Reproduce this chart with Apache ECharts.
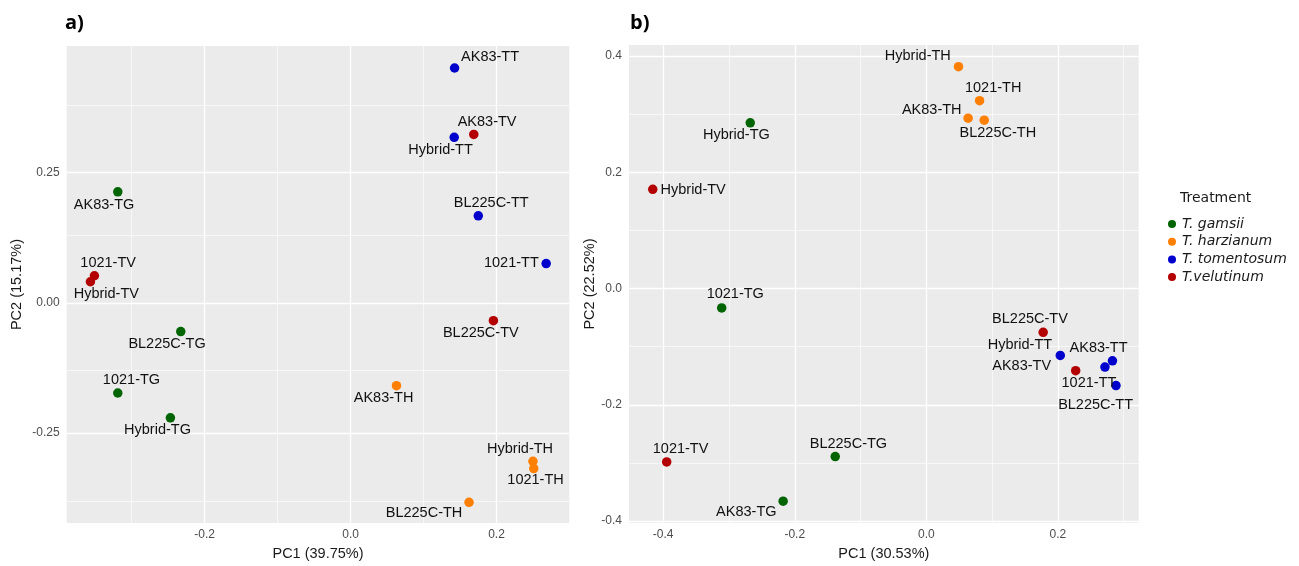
<!DOCTYPE html>
<html>
<head>
<meta charset="utf-8">
<title>PCA – Trichoderma treatments</title>
<script src="https://cdn.jsdelivr.net/npm/echarts@6/dist/echarts.min.js"></script>
<style>
  html, body { margin: 0; padding: 0; background: #ffffff; }
  #chart { width: 1299px; height: 566px; }
</style>
</head>
<body>
<div id="chart"></div>
<script>
// ---- data -------------------------------------------------------------
const treatments = ['T. gamsii', 'T. harzianum', 'T. tomentosum', 'T.velutinum'];
const treatmentCodes = ['TG', 'TH', 'TT', 'TV'];
const treatmentColors = ['#006400', '#FF7F00', '#0000CD', '#B30000'];

// panel a)
const samplesA = ['AK83-TT', 'AK83-TV', 'Hybrid-TT', 'AK83-TG', 'BL225C-TT', '1021-TT', '1021-TV', 'Hybrid-TV',
                  'BL225C-TG', 'BL225C-TV', '1021-TG', 'Hybrid-TG', 'AK83-TH', 'Hybrid-TH', '1021-TH', 'BL225C-TH'];
const pc1A = [0.1425, 0.1688, 0.142, -0.319, 0.175, 0.268, -0.351, -0.3565,
              -0.2327, 0.1957, -0.319, -0.2469, 0.0629, 0.2499, 0.251, 0.1623];
const pc2A = [0.4506, 0.3232, 0.3175, 0.213, 0.167, 0.0754, 0.052, 0.0405,
              -0.0551, -0.0342, -0.173, -0.2205, -0.159, -0.304, -0.318, -0.3827];
const ticksXA = [-0.2, 0, 0.2];
const ticksYA = [-0.25, 0, 0.25];
const minorXA = [-0.3, -0.1, 0.1];
const minorYA = [-0.375, -0.125, 0.125, 0.375];

// panel b)
const samplesB = ['Hybrid-TH', '1021-TH', 'AK83-TH', 'BL225C-TH', 'Hybrid-TG', 'Hybrid-TV', '1021-TG', 'BL225C-TV',
                  'Hybrid-TT', 'AK83-TT', '1021-TT', 'AK83-TV', 'BL225C-TT', '1021-TV', 'BL225C-TG', 'AK83-TG'];
const pc1B = [0.0489, 0.0809, 0.0635, 0.088, -0.2677, -0.4159, -0.3111, 0.1776,
              0.2036, 0.2829, 0.2715, 0.227, 0.2883, -0.3947, -0.1385, -0.2177];
const pc2B = [0.3816, 0.3231, 0.2929, 0.2895, 0.2849, 0.1707, -0.0333, -0.0754,
              -0.1151, -0.1243, -0.135, -0.1413, -0.1669, -0.2982, -0.289, -0.3657];
const ticksXB = [-0.4, -0.2, 0, 0.2];
const ticksYB = [-0.4, -0.2, 0, 0.2, 0.4];
const minorXB = [-0.3, -0.1, 0.1, 0.3];
const minorYB = [-0.3, -0.1, 0.1, 0.3];

// ---- layout: text label nudges (px) so sample names don't collide ------
const labelNudgeA = {
  'AK83-TT': [35.5, -10.7], 'AK83-TV': [13.3, -12.3], 'Hybrid-TT': [-13.7, 12.7], 'AK83-TG': [-13.7, 12.7],
  'BL225C-TT': [12.9, -13], '1021-TT': [-34.8, -0.3], '1021-TV': [13.7, -12.3], 'Hybrid-TV': [15.9, 12],
  'BL225C-TG': [-13.7, 12.7], 'BL225C-TV': [-12.6, 12.3], '1021-TG': [13.7, -12.7], 'Hybrid-TG': [-12.9, 12.3],
  'AK83-TH': [-12.9, 12.7], 'Hybrid-TH': [-12.9, -12.7], '1021-TH': [1.8, 11.7], 'BL225C-TH': [-45, 10.7]
};
const labelNudgeB = {
  'Hybrid-TH': [-40.7, -11], '1021-TH': [13.6, -12.7], 'AK83-TH': [-36.4, -8.7], 'BL225C-TH': [13.6, 12.7],
  'Hybrid-TG': [-13.9, 12], 'Hybrid-TV': [40.4, 1], '1021-TG': [13.6, -13.7], 'BL225C-TV': [-13.2, -13.3],
  'Hybrid-TT': [-40.4, -10.7], 'AK83-TT': [-13.9, -13], '1021-TT': [-16, 16], 'AK83-TV': [-54, -4.3],
  'BL225C-TT': [-20.4, 19], '1021-TV': [13.9, -13], 'BL225C-TG': [13.2, -13], 'AK83-TG': [-36.8, 10.7]
};

// ---- styling ------------------------------------------------------------
const panelBg = '#EBEBEB';
const labelFont = '"Liberation Sans", Arial, Helvetica, sans-serif';
const tickColor = '#4D4D4D';

function treatmentOf(name) {
  return treatmentCodes.indexOf(name.split('-').pop());
}

function pointSeries(gridIdx, samples, xs, ys, nudges) {
  return treatments.map(function (t, ti) {
    const data = [];
    samples.forEach(function (s, i) {
      if (treatmentOf(s) !== ti) return;
      data.push({
        name: s,
        value: [xs[i], ys[i]],
        label: { offset: nudges[s] }
      });
    });
    return {
      type: 'scatter',
      name: t,
      xAxisIndex: gridIdx,
      yAxisIndex: gridIdx,
      z: 3,
      symbol: 'circle',
      symbolSize: 9.5,
      itemStyle: { color: treatmentColors[ti], opacity: 1 },
      label: {
        show: true,
        position: 'inside',
        align: 'center',
        verticalAlign: 'middle',
        formatter: '{b}',
        color: '#111',
        fontSize: 14.5,
        fontFamily: labelFont
      },
      emphasis: { disabled: true },
      animation: false,
      data: data
    };
  });
}

// white panel grid (minor + major) drawn through the axes' own scales
function gridLineSeries(gridIdx, majorX, majorY, minorX, minorY) {
  const minorStyle = { color: '#ffffff', width: 0.6, type: 'solid', opacity: 1 };
  const majorStyle = { color: '#ffffff', width: 1.3, type: 'solid', opacity: 1 };
  const lines = []
    .concat(minorX.map(v => ({ xAxis: v, lineStyle: minorStyle })))
    .concat(minorY.map(v => ({ yAxis: v, lineStyle: minorStyle })))
    .concat(majorX.map(v => ({ xAxis: v, lineStyle: majorStyle })))
    .concat(majorY.map(v => ({ yAxis: v, lineStyle: majorStyle })));
  return {
    type: 'scatter',
    name: 'grid-' + gridIdx,
    xAxisIndex: gridIdx,
    yAxisIndex: gridIdx,
    z: 1,
    data: [],
    silent: true,
    animation: false,
    markLine: {
      z: 1,
      silent: true,
      symbol: ['none', 'none'],
      label: { show: false },
      emphasis: { disabled: true },
      animation: false,
      data: lines
    }
  };
}

function valueAxis(gridIdx, min, max, ticks, digits, name, nameGap, labelMargin) {
  return {
    type: 'value',
    gridIndex: gridIdx,
    min: min,
    max: max,
    name: name,
    nameLocation: 'middle',
    nameGap: nameGap,
    nameTextStyle: { color: '#1a1a1a', fontSize: 14.5, fontFamily: labelFont },
    axisLine: { show: false },
    axisTick: {
      show: true,
      length: 3.7,
      customValues: ticks,
      lineStyle: { color: '#333333', width: 1 }
    },
    axisLabel: {
      show: true,
      customValues: ticks,
      margin: labelMargin,
      color: tickColor,
      fontSize: 12,
      fontFamily: labelFont,
      formatter: function (v) { return Number(v).toFixed(digits); }
    },
    splitLine: { show: false },
    minorSplitLine: { show: false }
  };
}

const option = {
  backgroundColor: '#ffffff',
  animation: false,
  title: [
    { text: 'a)', left: 65, top: 13, padding: 0,
      textStyle: { fontSize: 20, fontWeight: 'bold', color: '#000', fontFamily: '"Open Sans", "DejaVu Sans", sans-serif' } },
    { text: 'b)', left: 630, top: 13, padding: 0,
      textStyle: { fontSize: 20, fontWeight: 'bold', color: '#000', fontFamily: '"Open Sans", "DejaVu Sans", sans-serif' } },
    { text: 'Treatment', left: 1180, top: 191, padding: 0,
      textStyle: { fontSize: 14, fontWeight: 'normal', color: '#1a1a1a', fontFamily: '"DejaVu Sans", sans-serif' } }
  ],
  legend: {
    data: treatments,
    orient: 'vertical',
    left: 1168,
    top: 217,
    padding: 0,
    icon: 'circle',
    itemWidth: 8,
    itemHeight: 8,
    itemGap: 3.7,
    selectedMode: false,
    textStyle: {
      fontSize: 14,
      lineHeight: 14,
      fontStyle: 'italic',
      color: '#1a1a1a',
      fontFamily: '"DejaVu Sans", sans-serif',
      padding: [0, 0, 0, 1]
    }
  },
  grid: [
    { left: 66.7, top: 46, width: 502.6, height: 481.3, show: true, backgroundColor: panelBg, borderWidth: 0 },
    { left: 629, top: 45, width: 509.7, height: 482.3, show: true, backgroundColor: panelBg, borderWidth: 0 }
  ],
  xAxis: [
    valueAxis(0, -0.389, 0.2997, ticksXA, 1, 'PC1 (39.75%)', 22, 6),
    valueAxis(1, -0.452, 0.3228, ticksXB, 1, 'PC1 (30.53%)', 22, 6)
  ],
  yAxis: [
    valueAxis(0, -0.4226, 0.4928, ticksYA, 2, 'PC2 (15.17%)', 42, 7),
    valueAxis(1, -0.4034, 0.4188, ticksYB, 1, 'PC2 (22.52%)', 25, 7)
  ],
  series: [
    gridLineSeries(0, ticksXA, ticksYA, minorXA, minorYA),
    gridLineSeries(1, ticksXB, ticksYB, minorXB, minorYB)
  ]
    .concat(pointSeries(0, samplesA, pc1A, pc2A, labelNudgeA))
    .concat(pointSeries(1, samplesB, pc1B, pc2B, labelNudgeB))
};

const chart = echarts.init(document.getElementById('chart'), null, { renderer: 'canvas' });
chart.setOption(option);
</script>
</body>
</html>
